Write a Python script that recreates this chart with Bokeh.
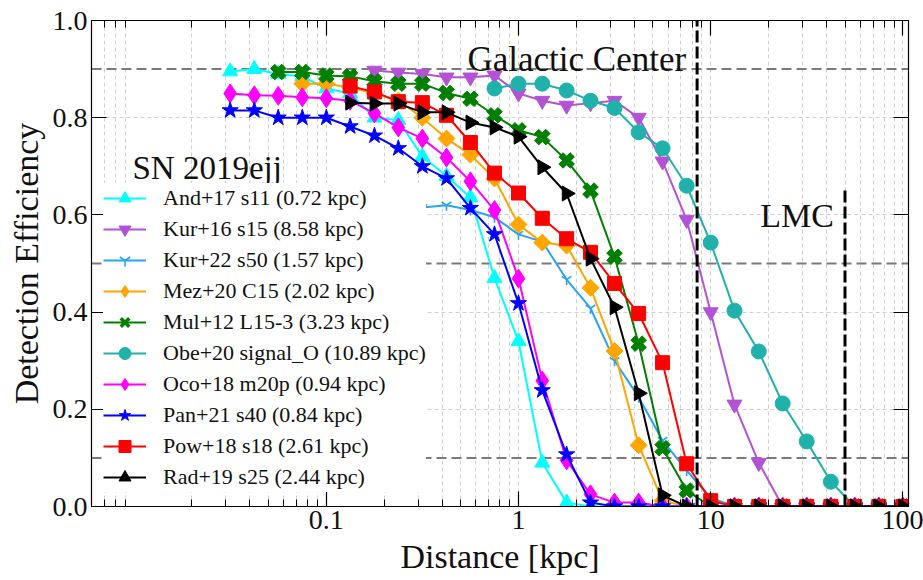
import math
from bokeh.plotting import figure
from bokeh.models import (Range1d, LogAxis, LinearAxis, FixedTicker,
                          Span, Label, Legend, LegendItem, PrintfTickFormatter, ColumnDataSource)
from bokeh.embed import file_html
from bokeh.resources import INLINE

# ---------------- data ----------------
DIST_KPC = [0.0316, 0.0422, 0.0562, 0.0750, 0.100, 0.133, 0.178, 0.237, 0.316, 0.422,
            0.562, 0.750, 1.00, 1.33, 1.78, 2.37, 3.16, 4.22, 5.62, 7.50,
            10.0, 13.3, 17.8, 23.7, 31.6, 42.2, 56.2, 75.0, 100.0]

N = None
AND17 = [0.895, 0.90, 0.89, 0.885, 0.86, 0.85, 0.80, 0.795, 0.72, 0.68,
         0.636, 0.47, 0.34, 0.09, 0.008, 0, 0, 0, 0, 0,
         0, 0, 0, 0, 0, 0, 0, 0, 0]
KUR16 = [N, N, N, N, N, N, 0.897, 0.893, 0.89, 0.883,
         0.883, 0.887, 0.85, 0.835, 0.825, 0.83, 0.835, 0.80, 0.71, 0.59,
         0.40, 0.21, 0.09, 0, 0, 0, 0, 0, 0]
KUR22 = [N, N, N, N, N, N, N, N, 0.615, 0.62,
         0.61, 0.595, 0.56, 0.545, 0.467, 0.408, 0.30, 0.225, 0.136, 0.074,
         0.018, 0, 0, 0, 0, 0, 0, 0, 0]
MEZ20 = [N, N, N, 0.87, 0.87, 0.862, 0.85, 0.835, 0.80, 0.757,
         0.724, 0.675, 0.58, 0.543, 0.537, 0.45, 0.32, 0.126, 0.012, 0,
         0, 0, 0, 0, 0, 0, 0, 0, 0]
MUL12 = [N, N, 0.894, 0.894, 0.887, 0.885, 0.875, 0.87, 0.87, 0.851,
         0.839, 0.805, 0.774, 0.76, 0.712, 0.65, 0.514, 0.335, 0.12, 0.033,
         0, 0, 0, 0, 0, 0, 0, 0, 0]
OBE20 = [N, N, N, N, N, N, N, N, N, N,
         N, 0.86, 0.87, 0.87, 0.856, 0.835, 0.82, 0.77, 0.737, 0.66,
         0.543, 0.403, 0.319, 0.212, 0.134, 0.051, 0, 0, 0]
OCO18 = [0.85, 0.846, 0.845, 0.842, 0.84, 0.835, 0.809, 0.78, 0.757, 0.718,
         0.669, 0.61, 0.469, 0.259, 0.095, 0.025, 0.008, 0.008, 0, 0,
         0, 0, 0, 0, 0, 0, 0, 0, 0]
PAN21 = [0.815, 0.815, 0.80, 0.80, 0.80, 0.782, 0.763, 0.737, 0.70, 0.675,
         0.614, 0.56, 0.418, 0.239, 0.107, 0.008, 0, 0, 0, 0,
         0, 0, 0, 0, 0, 0, 0, 0, 0]
POW18 = [N, N, N, N, N, 0.865, 0.853, 0.833, 0.831, 0.805,
         0.749, 0.686, 0.645, 0.593, 0.551, 0.523, 0.459, 0.397, 0.296, 0.088,
         0.012, 0, 0, 0, 0, 0, 0, 0, 0]
RAD19 = [N, N, N, N, N, 0.831, 0.829, 0.829, 0.811, 0.811,
         0.79, 0.78, 0.761, 0.698, 0.644, 0.51, 0.41, 0.233, 0.023, 0,
         0, 0, 0, 0, 0, 0, 0, 0, 0]

LABELS = ["And+17 s11 (0.72 kpc)", "Kur+16 s15 (8.58 kpc)", "Kur+22 s50 (1.57 kpc)",
          "Mez+20 C15 (2.02 kpc)", "Mul+12 L15-3 (3.23 kpc)", "Obe+20 signal_O (10.89 kpc)",
          "Oco+18 m20p (0.94 kpc)", "Pan+21 s40 (0.84 kpc)", "Pow+18 s18 (2.61 kpc)",
          "Rad+19 s25 (2.44 kpc)"]
VALUES = [AND17, KUR16, KUR22, MEZ20, MUL12, OBE20, OCO18, PAN21, POW18, RAD19]

X_MAJOR_TICKS = [0.1, 1, 10, 100]
Y_TICKS = [0.0, 0.2, 0.4, 0.6, 0.8, 1.0]
THRESHOLDS = [0.9, 0.5, 0.1]
GC_KPC = 8.5
LMC_KPC = 50
LMC_LINE_TOP = 0.65

# ---------------- style ----------------
# legend_marker: marker used for the legend swatch (legend swatches cannot be rotated)
STYLES = [
    dict(color="#00FFFF", marker="triangle", size=15, angle=0.0, legend_marker=None),
    dict(color="#B452D6", marker="inverted_triangle", size=15, angle=0.0, legend_marker=None),
    dict(color="#27A4F2", marker="y", size=11, angle=0.0, legend_marker=None),
    dict(color="#FFA500", marker="square", size=12, angle=math.pi / 4, legend_marker="diamond"),
    dict(color="#008000", marker="plus", size=16, angle=math.pi / 4, legend_marker="x"),
    dict(color="#20B2AA", marker="circle", size=15, angle=0.0, legend_marker=None),
    dict(color="#FF00FF", marker="diamond", size=19, angle=0.0, legend_marker=None),
    dict(color="#0000FF", marker="star", size=17, angle=0.0, legend_marker=None),
    dict(color="#FF0000", marker="square", size=14, angle=0.0, legend_marker=None),
    dict(color="#000000", marker="triangle", size=15, angle=-math.pi / 2, legend_marker=None),
]
FONT = "Liberation Serif"
TXT = "#111111"

p = figure(x_axis_type="log", x_range=Range1d(0.006, 107), y_range=Range1d(0, 1),
           width=923, height=580, output_backend="svg", toolbar_location=None,
           min_border_left=91, min_border_right=15, min_border_top=20, min_border_bottom=74)
p.outline_line_color = "black"
p.outline_line_width = 1.2
p.background_fill_color = "white"
p.border_fill_color = "white"

minor = [m * 10.0 ** e for e in range(-3, 3) for m in range(2, 10)]
xticker = FixedTicker(ticks=X_MAJOR_TICKS, minor_ticks=minor)
yticker = FixedTicker(ticks=Y_TICKS)

p.xaxis.ticker = xticker
p.xaxis.major_label_overrides = {0.1: "0.1", 1: "1", 10: "10", 100: "100"}
p.yaxis.ticker = yticker
p.yaxis.formatter = PrintfTickFormatter(format="%.1f")

for ax in (p.xaxis[0], p.yaxis[0]):
    ax.major_tick_in = 15
    ax.major_tick_out = 0
    ax.minor_tick_in = 7
    ax.minor_tick_out = 0
    ax.major_tick_line_width = 1.2
    ax.minor_tick_line_width = 1.0
    ax.major_label_text_font = FONT
    ax.major_label_text_font_size = "28px"
    ax.major_label_text_color = TXT
    ax.major_label_standoff = 4
    ax.axis_label_text_font = FONT
    ax.axis_label_text_font_size = "34px"
    ax.axis_label_text_font_style = "normal"
    ax.axis_label_text_color = TXT
    ax.axis_line_color = "black"
p.yaxis.minor_tick_in = 0
p.xaxis.axis_label = "Distance [kpc]"
p.yaxis.axis_label = "Detection Efficiency"
p.xaxis.axis_label_standoff = 6
p.yaxis.axis_label_standoff = 5

top = LogAxis(ticker=xticker, major_label_text_font_size="2px", major_label_text_alpha=0,
              major_label_standoff=0,
              major_tick_in=15, major_tick_out=0, minor_tick_in=7, minor_tick_out=0,
              major_tick_line_width=1.2)
right = LinearAxis(ticker=yticker, major_label_text_font_size="2px", major_label_text_alpha=0,
                   major_label_standoff=0,
                   major_tick_in=15, major_tick_out=0, minor_tick_in=0, minor_tick_out=0,
                   major_tick_line_width=1.2)
p.add_layout(top, "above")
p.add_layout(right, "right")

p.xgrid.ticker = xticker
p.xgrid.grid_line_color = "#d0d0d0"
p.xgrid.grid_line_dash = "4 3"
p.xgrid.minor_grid_line_color = "#d0d0d0"
p.xgrid.minor_grid_line_dash = "4 3"
p.ygrid.ticker = yticker
p.ygrid.grid_line_color = "#d0d0d0"
p.ygrid.grid_line_dash = "4 3"

for t in THRESHOLDS:
    p.add_layout(Span(location=t, dimension="width", line_color="#7a7a7a",
                      line_width=2, line_dash="10 5", level="underlay"))

items = []
for label, vals, st in zip(LABELS, VALUES, STYLES):
    xs = [d for d, v in zip(DIST_KPC, vals) if v is not None]
    ys = [v for v in vals if v is not None]
    src = ColumnDataSource(dict(x=xs, y=ys))
    lr = p.line("x", "y", source=src, line_color=st["color"], line_width=2)
    if st["marker"] == "y":
        sr = p.scatter("x", "y", source=src, marker="y", size=st["size"],
                       line_color=st["color"], line_width=1.6)
    else:
        sr = p.scatter("x", "y", source=src, marker=st["marker"], size=st["size"],
                       angle=st["angle"], fill_color=st["color"], line_color=st["color"],
                       line_width=1)
    legend_renderers = [lr, sr]
    if st["legend_marker"] is not None:
        # legend-only swatch: a single NaN point, never drawn inside the plot
        nan_src = ColumnDataSource(dict(x=[float("nan")], y=[float("nan")]))
        lw = 3.5 if st["legend_marker"] == "x" else 1
        proxy = p.scatter("x", "y", source=nan_src, marker=st["legend_marker"], size=12,
                          fill_color=st["color"], line_color=st["color"], line_width=lw)
        legend_renderers = [lr, proxy]
    items.append(LegendItem(label=label, renderers=legend_renderers))

# vertical reference lines
p.segment(x0=[GC_KPC], y0=[0], x1=[GC_KPC], y1=[1],
          line_color="black", line_width=3, line_dash="12 4")
p.segment(x0=[LMC_KPC], y0=[0], x1=[LMC_KPC], y1=[LMC_LINE_TOP],
          line_color="black", line_width=3, line_dash="12 4")

p.add_layout(Label(x=GC_KPC, y=0.92, x_offset=-11, text="Galactic Center",
                   text_font=FONT, text_font_size="35px", text_color=TXT,
                   text_align="right", text_baseline="alphabetic"))
p.add_layout(Label(x=LMC_KPC, y=0.599, x_offset=-11, text="LMC",
                   text_font=FONT, text_font_size="34px", text_color=TXT,
                   text_align="right", text_baseline="alphabetic"))

legend = Legend(items=items, location=(12, 14), padding=4, spacing=1, margin=0,
                glyph_width=43, glyph_height=30, label_height=30, label_standoff=17,
                label_text_font=FONT, label_text_font_size="22px",
                label_text_color=TXT,
                background_fill_color="white", background_fill_alpha=1.0,
                border_line_color=None)
p.add_layout(legend)

p.add_layout(Label(x=0.0098, y=0.6975, text="SN 2019ejj",
                   text_font=FONT, text_font_size="33px", text_color=TXT,
                   text_align="left", text_baseline="alphabetic"))

open("out.html", "w").write(file_html(p, INLINE))
